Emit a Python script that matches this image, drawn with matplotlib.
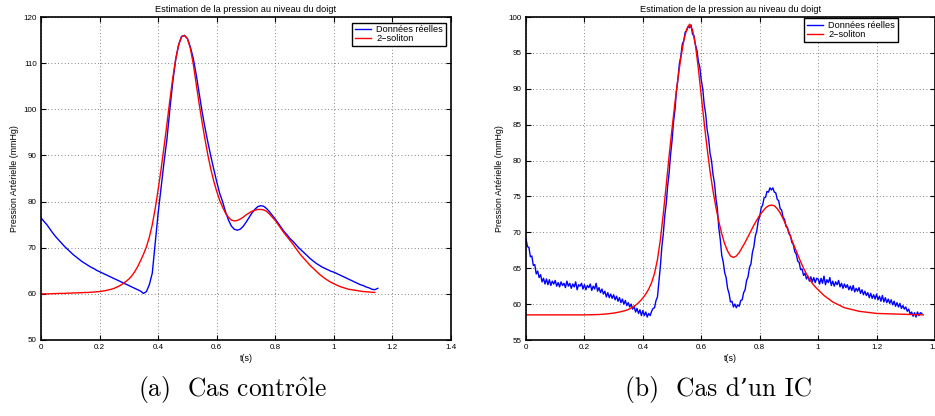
import numpy as np
import matplotlib
matplotlib.use('Agg')
import matplotlib.pyplot as plt

# sampling steps (s)
DT_CTRL = 0.01
DT_IC = 0.005

# (a) cas controle : donnees reelles, pas de 0.01 s
ctrl_reel = [
	76.5, 75.7, 75.0, 74.1, 73.2, 72.4, 71.7, 71.0, 70.3, 69.7,
	69.1, 68.5, 68.0, 67.5, 67.0, 66.6, 66.2, 65.8, 65.5, 65.1,
	64.8, 64.5, 64.2, 63.9, 63.6, 63.3, 63.0, 62.7, 62.4, 62.1,
	61.8, 61.5, 61.2, 60.9, 60.6, 60.1, 60.5, 62.0, 64.5, 71.0,
	77.5, 83.0, 88.5, 93.5, 100.0, 106.0, 110.8, 114.0, 115.8, 116.0,
	115.3, 113.5, 111.0, 107.5, 103.5, 99.5, 96.0, 92.8, 89.8, 87.0,
	84.3, 81.8, 80.0, 77.8, 76.0, 74.7, 74.0, 73.8, 74.0, 74.6,
	75.5, 76.5, 77.5, 78.3, 78.9, 79.1, 79.0, 78.5, 77.8, 77.0,
	76.2, 75.3, 74.4, 73.5, 72.8, 72.0, 71.4, 70.7, 70.0, 69.4,
	68.8, 68.2, 67.6, 67.1, 66.6, 66.2, 65.8, 65.5, 65.2, 64.9,
	64.7, 64.4, 64.1, 63.8, 63.5, 63.2, 62.9, 62.6, 62.3, 62.0,
	61.8, 61.5, 61.3, 61.0, 60.9, 61.2,
]

# (a) modele 2-soliton
ctrl_soliton = [
	60.0, 60.0, 60.0, 60.0, 60.05, 60.05, 60.1, 60.1, 60.1, 60.15,
	60.15, 60.2, 60.2, 60.25, 60.25, 60.3, 60.3, 60.35, 60.4, 60.45,
	60.5, 60.6, 60.7, 60.85, 61.0, 61.2, 61.5, 61.8, 62.2, 62.7,
	63.2, 63.9, 64.8, 65.9, 67.2, 68.6, 70.2, 72.3, 75.0, 78.5,
	82.6, 87.0, 91.8, 96.8, 102.0, 106.8, 110.9, 114.0, 115.7, 116.0,
	115.3, 113.2, 109.8, 105.5, 101.2, 97.2, 93.5, 90.0, 87.0, 84.4,
	82.2, 80.3, 78.8, 77.5, 76.6, 76.0, 75.8, 75.9, 76.2, 76.6,
	77.1, 77.5, 77.9, 78.1, 78.3, 78.3, 78.2, 77.9, 77.3, 76.6,
	75.9, 75.0, 74.1, 73.2, 72.4, 71.6, 70.8, 69.9, 69.0, 68.2,
	67.5, 66.8, 66.1, 65.5, 64.9, 64.3, 63.8, 63.3, 62.9, 62.5,
	62.2, 61.9, 61.6, 61.4, 61.2, 61.0, 60.9, 60.8, 60.7, 60.6,
	60.5, 60.45, 60.4, 60.35, 60.3,
]

# (b) cas d'un IC : donnees reelles, pas de 0.005 s
ic_reel = [
	69.1, 68.0, 67.9, 66.6, 66.7, 65.4, 65.5, 64.2, 64.6, 63.7,
	64.1, 63.1, 63.6, 62.8, 63.5, 62.7, 63.4, 62.6, 63.2, 62.8,
	63.3, 62.5, 63.0, 62.4, 63.1, 62.6, 62.9, 62.3, 63.2, 62.5,
	62.9, 62.2, 62.8, 62.4, 63.1, 62.0, 62.7, 62.5, 62.9, 62.1,
	62.7, 62.0, 62.6, 62.3, 62.8, 61.9, 62.5, 62.1, 62.9, 61.8,
	62.3, 61.6, 62.1, 61.4, 61.8, 61.0, 61.6, 60.9, 61.4, 60.8,
	61.3, 60.6, 61.1, 60.4, 60.9, 60.2, 60.7, 60.0, 60.5, 59.8,
	60.2, 59.6, 60.0, 59.3, 59.7, 58.9, 59.4, 58.7, 59.2, 58.4,
	59.1, 58.4, 58.9, 58.2, 58.7, 58.4, 59.0, 59.4, 59.5, 60.5,
	61.0, 63.2, 65.3, 68.0, 69.8, 72.3, 74.0, 76.5, 78.3, 80.9,
	82.8, 85.4, 87.1, 89.7, 91.3, 93.5, 94.5, 96.2, 96.7, 97.9,
	98.1, 98.7, 98.5, 98.9, 97.6, 97.4, 96.1, 95.4, 93.8, 93.0,
	91.2, 90.0, 87.8, 86.5, 84.3, 83.1, 81.0, 80.0, 78.1, 76.9,
	74.8, 73.3, 70.6, 69.0, 66.8, 65.9, 64.4, 63.7, 62.2, 61.5,
	60.3, 60.4, 59.6, 60.0, 59.5, 59.9, 59.7, 60.5, 60.6, 61.6,
	62.0, 63.3, 63.8, 65.1, 65.6, 67.2, 68.0, 69.5, 70.2, 71.6,
	72.2, 73.4, 73.8, 74.8, 74.9, 75.7, 75.6, 76.2, 75.9, 76.2,
	75.6, 75.5, 74.6, 74.4, 73.3, 73.1, 72.1, 71.8, 70.8, 70.7,
	69.8, 69.6, 68.6, 68.3, 67.3, 67.0, 66.0, 65.8, 64.8, 64.9,
	64.0, 64.3, 63.5, 63.9, 63.2, 63.8, 63.1, 63.7, 63.0, 63.6,
	63.5, 62.8, 63.6, 62.9, 63.9, 62.7, 63.4, 63.0, 63.7, 62.6,
	63.2, 62.5, 63.1, 62.7, 63.3, 62.4, 62.9, 62.2, 62.8, 62.3,
	62.7, 62.0, 62.5, 61.9, 62.6, 61.7, 62.2, 61.8, 62.3, 61.5,
	62.0, 61.3, 61.8, 61.2, 61.6, 60.9, 61.5, 60.8, 61.3, 60.7,
	61.4, 60.6, 61.1, 60.4, 61.2, 60.3, 60.9, 60.2, 60.7, 60.1,
	60.6, 59.9, 60.4, 59.7, 60.2, 59.6, 60.1, 59.4, 59.8, 59.3,
	59.6, 59.0, 59.3, 58.6, 58.9, 58.3, 58.8, 58.2, 58.9, 58.4,
	58.8, 58.7,
]

# (b) modele 2-soliton (temps non uniforme)
ic_soliton_t = [
	0.00, 0.05, 0.10, 0.15, 0.20, 0.25, 0.28, 0.30, 0.32, 0.34,
	0.35, 0.36, 0.37, 0.38, 0.39, 0.40, 0.41, 0.42, 0.43, 0.44,
	0.45, 0.46, 0.47, 0.48, 0.49, 0.50, 0.51, 0.52, 0.53, 0.54,
	0.55, 0.56, 0.57, 0.58, 0.59, 0.60, 0.61, 0.62, 0.63, 0.64,
	0.65, 0.66, 0.67, 0.68, 0.69, 0.70, 0.71, 0.72, 0.73, 0.74,
	0.75, 0.76, 0.77, 0.78, 0.79, 0.80, 0.81, 0.82, 0.83, 0.84,
	0.85, 0.86, 0.87, 0.88, 0.89, 0.90, 0.91, 0.92, 0.93, 0.94,
	0.95, 0.96, 0.97, 0.98, 0.99, 1.00, 1.01, 1.02, 1.03, 1.04,
	1.05, 1.06, 1.07, 1.08, 1.09, 1.10, 1.12, 1.14, 1.16, 1.18,
	1.20, 1.24, 1.28, 1.32, 1.36,
]
ic_soliton = [
	58.5, 58.5, 58.5, 58.5, 58.5, 58.55, 58.65, 58.75, 58.9, 59.1,
	59.25, 59.45, 59.7, 60.0, 60.4, 60.85, 61.4, 62.1, 63.0, 64.3,
	66.2, 69.0, 72.6, 76.6, 80.7, 84.5, 88.1, 91.4, 94.3, 96.7,
	98.3, 99.0, 98.2, 96.1, 92.8, 89.0, 85.2, 81.7, 78.5, 75.8,
	73.5, 71.5, 69.8, 68.4, 67.4, 66.7, 66.5, 66.7, 67.2, 67.9,
	68.6, 69.4, 70.2, 71.0, 71.7, 72.4, 72.9, 73.4, 73.7, 73.8,
	73.7, 73.3, 72.7, 71.9, 71.0, 70.0, 68.9, 67.9, 66.9, 65.9,
	65.0, 64.2, 63.5, 62.9, 62.4, 62.0, 61.6, 61.2, 60.9, 60.6,
	60.3, 60.1, 59.9, 59.7, 59.5, 59.4, 59.2, 59.0, 58.9, 58.8,
	58.7, 58.65, 58.6, 58.55, 58.5,
]

xticks = [0, 0.2, 0.4, 0.6, 0.8, 1.0, 1.2, 1.4]
xtick_labels = ['0', '0.2', '0.4', '0.6', '0.8', '1', '1.2', '1.4']
yticks_ctrl = [50, 60, 70, 80, 90, 100, 110, 120]
yticks_ic = [55, 60, 65, 70, 75, 80, 85, 90, 95, 100]

titre = 'Estimation de la pression au niveau du doigt'
legende = ['Données réelles', '2\u2212soliton']

W, H = 935.0, 416.0
plt.rcParams['font.family'] = ['Liberation Sans', 'DejaVu Sans']
plt.rcParams['mathtext.fontset'] = 'cm'


def style_axes(ax, yticks, ylim):
	"""Axes facon MATLAB : cadre noir, graduations internes, grille pointillee"""
	ax.set_xlim(0, 1.4)
	ax.set_ylim(*ylim)
	ax.set_xticks(xticks)
	ax.set_xticklabels(xtick_labels)
	ax.set_yticks(yticks)
	ax.set_yticklabels([str(v) for v in yticks])
	ax.tick_params(direction='in', top=True, right=True, length=3.5,
		width=0.8, labelsize=5.8, pad=3)
	ax.grid(True, linestyle=(0, (1, 3)), color='0.35', linewidth=0.6)
	for s in ax.spines.values():
		s.set_linewidth(1.2)
	ax.set_title(titre, fontsize=6.6, pad=3.5)
	ax.set_xlabel('t(s)', fontsize=6.4, labelpad=2)
	ax.set_ylabel('Pression Artérielle (mmHg)', fontsize=6.4, labelpad=3)


def add_legend(ax, fig, right, top):
	leg = ax.legend(legende, loc='upper right', bbox_to_anchor=(right / W, 1 - top / H),
		bbox_transform=fig.transFigure, borderaxespad=0, fancybox=False,
		edgecolor='black', framealpha=1, fontsize=6.6, handlelength=1.8,
		borderpad=0.3, labelspacing=0.0, handletextpad=0.55)
	leg.get_frame().set_linewidth(1.0)


fig = plt.figure(figsize=(W / 100, H / 100), dpi=100)

# (a)
ax1 = fig.add_axes([41 / W, 1 - 340 / H, 410 / W, 323 / H])
t_reel = np.arange(len(ctrl_reel)) * DT_CTRL
t_sol = np.arange(len(ctrl_soliton)) * DT_CTRL
ax1.plot(t_reel, ctrl_reel, color='blue', lw=1.0)
ax1.plot(t_sol, ctrl_soliton, color='red', lw=1.0)
style_axes(ax1, yticks_ctrl, (50, 120))
add_legend(ax1, fig, 446, 22.7)

# (b)
ax2 = fig.add_axes([526 / W, 1 - 340 / H, 409 / W, 323 / H])
t_ic = np.arange(len(ic_reel)) * DT_IC
ax2.plot(t_ic, ic_reel, color='blue', lw=1.0)
ax2.plot(ic_soliton_t, ic_soliton, color='red', lw=1.0)
style_axes(ax2, yticks_ic, (55, 100))
add_legend(ax2, fig, 897.7, 18.3)

# sous-titres
cap = dict(ha='center', va='baseline', fontsize=18.3, family=['cmr10', 'DejaVu Serif'])
fig.text(233 / W, 1 - 396 / H, r'(a)  Cas contr$\hat{\mathrm{o}}$le', **cap)
fig.text(719 / W, 1 - 396 / H, '(b)  Cas d\u2019un IC', **cap)

fig.savefig('out.png', dpi=100)
